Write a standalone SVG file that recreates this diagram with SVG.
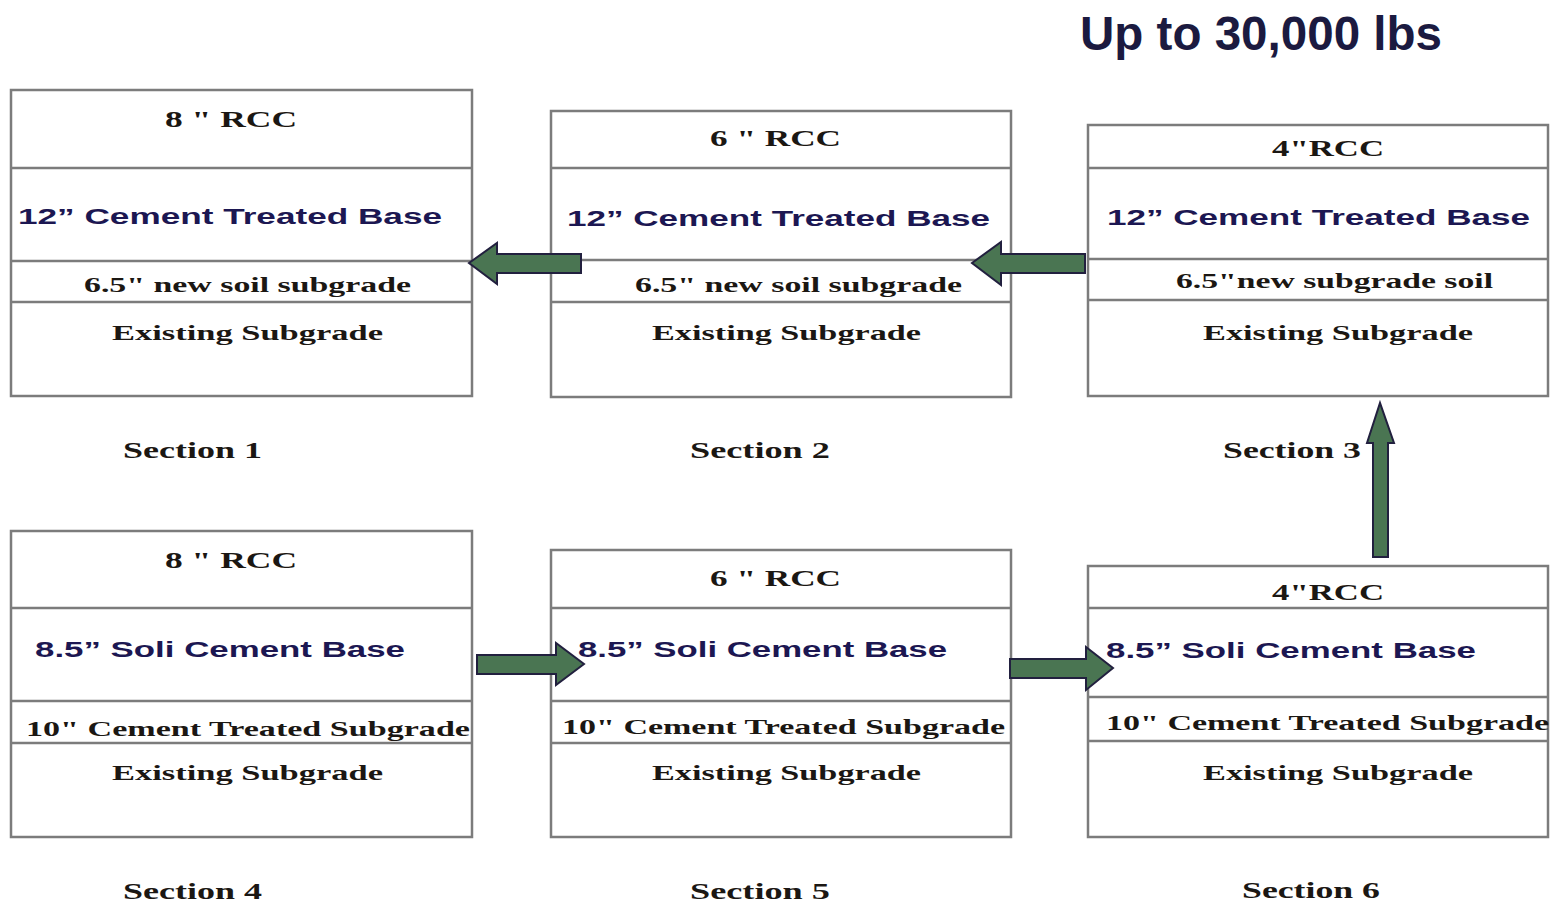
<svg xmlns="http://www.w3.org/2000/svg" width="1550" height="902" viewBox="0 0 1550 902">
<style>
.box{fill:#fff;stroke:#7c7c7c;stroke-width:2.5}
.div{stroke:#7c7c7c;stroke-width:2.5}
.sf{font-family:"Liberation Serif","Times New Roman",serif;font-weight:bold;fill:#1b1713}
.ss{font-family:"Liberation Sans",Arial,sans-serif;font-weight:bold;fill:#1c1752}
.arr{fill:#4a7552;stroke:#22203f;stroke-width:2;stroke-linejoin:miter}
.title{font-family:"Liberation Sans",Arial,sans-serif;font-weight:bold;font-size:48px;fill:#1b1a40}
</style>
<rect width="1550" height="902" fill="#fff"/>
<text class="title" x="1080" y="50" textLength="362" lengthAdjust="spacingAndGlyphs">Up to 30,000 lbs</text>

<g id="section1">
<rect class="box" x="11" y="90" width="461" height="306"/>
<line class="div" x1="11" y1="168" x2="472" y2="168"/>
<line class="div" x1="11" y1="261" x2="472" y2="261"/>
<line class="div" x1="11" y1="302" x2="472" y2="302"/>
<text class="sf" x="165" y="127" font-size="24" textLength="132" lengthAdjust="spacingAndGlyphs">8 " RCC</text>
<text class="ss" x="18" y="224" font-size="22" textLength="424" lengthAdjust="spacingAndGlyphs">12” Cement Treated Base</text>
<text class="sf" x="84" y="292" font-size="21" textLength="327" lengthAdjust="spacingAndGlyphs">6.5" new soil subgrade</text>
<text class="sf" x="112" y="340" font-size="22" textLength="271" lengthAdjust="spacingAndGlyphs">Existing Subgrade</text>
<text class="sf" x="123" y="458" font-size="23" textLength="139" lengthAdjust="spacingAndGlyphs">Section 1</text>
</g>

<g id="section2">
<rect class="box" x="551" y="111" width="460" height="286"/>
<line class="div" x1="551" y1="168" x2="1011" y2="168"/>
<line class="div" x1="551" y1="260" x2="1011" y2="260"/>
<line class="div" x1="551" y1="302" x2="1011" y2="302"/>
<text class="sf" x="710" y="146" font-size="24" textLength="131" lengthAdjust="spacingAndGlyphs">6 " RCC</text>
<text class="ss" x="567" y="226" font-size="22" textLength="423" lengthAdjust="spacingAndGlyphs">12” Cement Treated Base</text>
<text class="sf" x="635" y="292" font-size="21" textLength="327" lengthAdjust="spacingAndGlyphs">6.5" new soil subgrade</text>
<text class="sf" x="652" y="340" font-size="22" textLength="269" lengthAdjust="spacingAndGlyphs">Existing Subgrade</text>
<text class="sf" x="690" y="458" font-size="23" textLength="140" lengthAdjust="spacingAndGlyphs">Section 2</text>
</g>

<g id="section3">
<rect class="box" x="1088" y="125" width="460" height="271"/>
<line class="div" x1="1088" y1="168" x2="1548" y2="168"/>
<line class="div" x1="1088" y1="259" x2="1548" y2="259"/>
<line class="div" x1="1088" y1="300" x2="1548" y2="300"/>
<text class="sf" x="1272" y="156" font-size="24" textLength="112" lengthAdjust="spacingAndGlyphs">4"RCC</text>
<text class="ss" x="1107" y="225" font-size="22" textLength="423" lengthAdjust="spacingAndGlyphs">12” Cement Treated Base</text>
<text class="sf" x="1176" y="288" font-size="21" textLength="317" lengthAdjust="spacingAndGlyphs">6.5"new subgrade soil</text>
<text class="sf" x="1203" y="340" font-size="22" textLength="270" lengthAdjust="spacingAndGlyphs">Existing Subgrade</text>
<text class="sf" x="1223" y="458" font-size="23" textLength="138" lengthAdjust="spacingAndGlyphs">Section 3</text>
</g>

<g id="section4">
<rect class="box" x="11" y="531" width="461" height="306"/>
<line class="div" x1="11" y1="608" x2="472" y2="608"/>
<line class="div" x1="11" y1="701" x2="472" y2="701"/>
<line class="div" x1="11" y1="743" x2="472" y2="743"/>
<text class="sf" x="165" y="568" font-size="24" textLength="132" lengthAdjust="spacingAndGlyphs">8 " RCC</text>
<text class="ss" x="35" y="657" font-size="22" textLength="370" lengthAdjust="spacingAndGlyphs">8.5” Soli Cement Base</text>
<text class="sf" x="26" y="736" font-size="22" textLength="444" lengthAdjust="spacingAndGlyphs">10" Cement Treated Subgrade</text>
<text class="sf" x="112" y="780" font-size="22" textLength="271" lengthAdjust="spacingAndGlyphs">Existing Subgrade</text>
<text class="sf" x="123" y="899" font-size="23" textLength="139" lengthAdjust="spacingAndGlyphs">Section 4</text>
</g>

<g id="section5">
<rect class="box" x="551" y="550" width="460" height="287"/>
<line class="div" x1="551" y1="608" x2="1011" y2="608"/>
<line class="div" x1="551" y1="701" x2="1011" y2="701"/>
<line class="div" x1="551" y1="743" x2="1011" y2="743"/>
<text class="sf" x="710" y="586" font-size="24" textLength="131" lengthAdjust="spacingAndGlyphs">6 " RCC</text>
<text class="ss" x="578" y="657" font-size="22" textLength="369" lengthAdjust="spacingAndGlyphs">8.5” Soli Cement Base</text>
<text class="sf" x="562" y="734" font-size="22" textLength="443" lengthAdjust="spacingAndGlyphs">10" Cement Treated Subgrade</text>
<text class="sf" x="652" y="780" font-size="22" textLength="269" lengthAdjust="spacingAndGlyphs">Existing Subgrade</text>
<text class="sf" x="690" y="899" font-size="23" textLength="140" lengthAdjust="spacingAndGlyphs">Section 5</text>
</g>

<g id="section6">
<rect class="box" x="1088" y="566" width="460" height="271"/>
<line class="div" x1="1088" y1="608" x2="1548" y2="608"/>
<line class="div" x1="1088" y1="697" x2="1548" y2="697"/>
<line class="div" x1="1088" y1="741" x2="1548" y2="741"/>
<text class="sf" x="1272" y="600" font-size="24" textLength="112" lengthAdjust="spacingAndGlyphs">4"RCC</text>
<text class="ss" x="1106" y="658" font-size="22" textLength="370" lengthAdjust="spacingAndGlyphs">8.5” Soli Cement Base</text>
<text class="sf" x="1106" y="730" font-size="22" textLength="443" lengthAdjust="spacingAndGlyphs">10" Cement Treated Subgrade</text>
<text class="sf" x="1203" y="780" font-size="22" textLength="270" lengthAdjust="spacingAndGlyphs">Existing Subgrade</text>
<text class="sf" x="1242" y="898" font-size="23" textLength="138" lengthAdjust="spacingAndGlyphs">Section 6</text>
</g>

<g id="connectors">
<polygon class="arr" points="581,254 497,254 497,243 469,263 497,284 497,273 581,273"/>
<polygon class="arr" points="1085,254 1001,254 1001,242 972,263 1001,285 1001,273 1085,273"/>
<polygon class="arr" points="477,655 556,655 556,643 584,664 556,685 556,674 477,674"/>
<polygon class="arr" points="1010,659 1086,659 1086,647 1113,668 1086,690 1086,678 1010,678"/>
<polygon class="arr" points="1373,557 1373,443 1367,443 1380,403 1394,443 1388,443 1388,557"/>
</g>
</svg>
